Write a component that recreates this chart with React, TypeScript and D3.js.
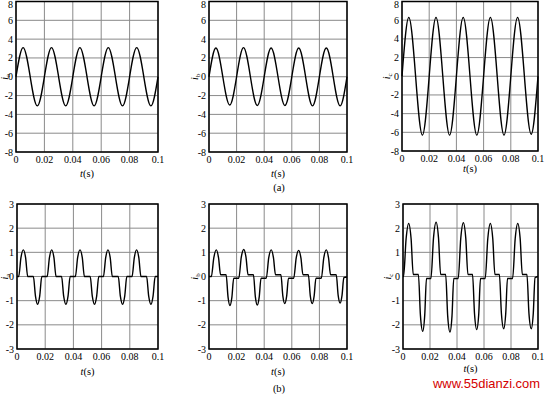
import * as d3 from 'd3';
import React from 'react';

// ---- data ----
const xTicks = [0, 0.02, 0.04, 0.06, 0.08, 0.1];
const xTickLabels = ['0', '0.02', '0.04', '0.06', '0.08', '0.1'];
const yTicksTop = [-8, -6, -4, -2, 0, 2, 4, 6, 8];
const yTicksBottom = [-3, -2, -1, 0, 1, 2, 3];

// (a) sinusoidal currents, sampled at zero crossings and peaks
const tSine = [0, 0.005, 0.01, 0.015, 0.02, 0.025, 0.03, 0.035, 0.04, 0.045, 0.05,
  0.055, 0.06, 0.065, 0.07, 0.075, 0.08, 0.085, 0.09, 0.095, 0.1];
const iaSine = [0, 3.1, 0, -3.1, 0, 3.1, 0, -3.1, 0, 3.1, 0, -3.1, 0, 3.1, 0, -3.1, 0, 3.1, 0, -3.1, 0];
const ibSine = [0, 3.05, 0, -3.0, 0, 3.1, 0, -3.05, 0, 3.05, 0, -3.05, 0, 3.05, 0, -3.1, 0, 3.05, 0, -3.1, 0];
const icSine = [0, 6.3, 0, -6.3, 0, 6.3, 0, -6.3, 0, 6.3, 0, -6.3, 0, 6.3, 0, -6.3, 0, 6.3, 0, -6.2, 0];

// (b) chopped currents
const tA = [0, 0.0012, 0.0028, 0.0045, 0.0061, 0.0076, 0.0116, 0.0131, 0.0146, 0.0161, 0.0176,
  0.0214, 0.023, 0.0246, 0.0262, 0.0277, 0.0316, 0.0331, 0.0347, 0.0362, 0.0377,
  0.0414, 0.043, 0.0447, 0.0463, 0.0478, 0.0519, 0.0534, 0.055, 0.0565, 0.058,
  0.0613, 0.0629, 0.0645, 0.0661, 0.0676, 0.0718, 0.0733, 0.0749, 0.0764, 0.0779,
  0.0816, 0.0832, 0.0848, 0.0864, 0.0879, 0.0919, 0.0934, 0.095, 0.0965, 0.098, 0.1];
const iaChop = [0, 0, 0.78, 1.1, 0.78, 0, 0, -0.81, -1.15, -0.81, 0,
  0, 0.78, 1.1, 0.78, 0, 0, -0.81, -1.15, -0.81, 0,
  0, 0.78, 1.1, 0.78, 0, 0, -0.81, -1.15, -0.81, 0,
  0, 0.78, 1.1, 0.78, 0, 0, -0.81, -1.15, -0.81, 0,
  0, 0.78, 1.1, 0.78, 0, 0, -0.81, -1.15, -0.81, 0, 0];

const tB = [0, 0.0017, 0.0035, 0.0053, 0.0069, 0.0084, 0.0124, 0.0138, 0.0152, 0.0166, 0.0179,
  0.0216, 0.0234, 0.0252, 0.0268, 0.0283, 0.0322, 0.0336, 0.035, 0.0364, 0.0377,
  0.0415, 0.0433, 0.0451, 0.0467, 0.0482, 0.0521, 0.0535, 0.0549, 0.0563, 0.0576,
  0.0614, 0.0632, 0.065, 0.0666, 0.0681, 0.072, 0.0734, 0.0748, 0.0762, 0.0775,
  0.0814, 0.0832, 0.085, 0.0866, 0.0881, 0.0922, 0.0936, 0.095, 0.0964, 0.0977, 0.1];
const ibChop = [0, 0, 0.78, 1.1, 0.78, 0.07, 0.07, -0.85, -1.2, -0.85, -0.07,
  -0.07, 0.8, 1.12, 0.8, 0.07, 0.07, -0.84, -1.18, -0.84, -0.07,
  -0.07, 0.78, 1.1, 0.78, 0.07, 0.07, -0.8, -1.12, -0.8, -0.07,
  -0.07, 0.77, 1.08, 0.77, 0.07, 0.07, -0.8, -1.12, -0.8, -0.07,
  -0.07, 0.78, 1.1, 0.78, 0.07, 0.07, -0.78, -1.1, -0.78, -0.05, -0.02];

const tC = [0, 0.0004, 0.0023, 0.0042, 0.006, 0.0076, 0.0114, 0.0129, 0.0146, 0.0161, 0.0174,
  0.0207, 0.0226, 0.0245, 0.0263, 0.0279, 0.0316, 0.0331, 0.0348, 0.0363, 0.0376,
  0.0409, 0.0428, 0.0447, 0.0465, 0.0481, 0.0515, 0.053, 0.0546, 0.0561, 0.0574,
  0.0609, 0.0628, 0.0647, 0.0665, 0.0681, 0.0714, 0.0729, 0.0746, 0.0761, 0.0774,
  0.0812, 0.0831, 0.085, 0.0868, 0.0884, 0.0918, 0.0933, 0.095, 0.0965, 0.0978, 0.1];
const icChop = [0, 0, 1.56, 2.2, 1.56, 0.08, 0.08, -1.6, -2.27, -1.6, -0.08,
  -0.08, 1.6, 2.25, 1.6, 0.08, 0.08, -1.63, -2.3, -1.63, -0.08,
  -0.08, 1.59, 2.23, 1.59, 0.08, 0.08, -1.56, -2.2, -1.56, -0.08,
  -0.08, 1.56, 2.2, 1.56, 0.08, 0.08, -1.53, -2.16, -1.53, -0.08,
  -0.08, 1.56, 2.2, 1.56, 0.08, 0.08, -1.53, -2.16, -1.53, -0.05, 0];

const FONT = 'Liberation Serif, serif';

type PanelProps = {
  left: number; right: number; top: number; bottom: number;
  yTicks: number[];
  t: number[]; v: number[];
  sub: string;
  curve: d3.CurveFactory;
  xLabelY: number;
  yLabelX: number;
};

const Panel: React.FC<PanelProps> = ({ left, right, top, bottom, yTicks, t, v, sub, curve, xLabelY, yLabelX }) => {
  const x = d3.scaleLinear().domain([0, 0.1]).range([left, right]);
  const y = d3.scaleLinear().domain([yTicks[0], yTicks[yTicks.length - 1]]).range([bottom, top]);
  const pts: [number, number][] = t.map((tt, i) => [tt, v[i]]);
  const line = d3.line<[number, number]>().x(d => x(d[0])).y(d => y(d[1])).curve(curve);
  const midY = (top + bottom) / 2;
  return (
    <g>
      {xTicks.map(tk => (
        <line key={'gx' + tk} x1={x(tk)} x2={x(tk)} y1={top} y2={bottom} stroke="#8a8a8a" strokeWidth={1} />
      ))}
      {yTicks.map(tk => (
        <line key={'gy' + tk} x1={left} x2={right} y1={y(tk)} y2={y(tk)} stroke="#8a8a8a" strokeWidth={1} />
      ))}
      <path d={line(pts) || ''} fill="none" stroke="#000" strokeWidth={1.4} strokeLinejoin="round" />
      <rect x={left} y={top} width={right - left} height={bottom - top} fill="none" stroke="#000" strokeWidth={1.5} />
      {yTicks.map(tk => (
        <text key={'ly' + tk} x={left - 3} y={Math.max(y(tk) + 3.5, 8)} textAnchor="end" fontSize={10} fontFamily={FONT}>{tk}</text>
      ))}
      {xTicks.map((tk, i) => (
        <text key={'lx' + tk} x={x(tk)} y={bottom + 11} textAnchor="middle" fontSize={10} fontFamily={FONT}>{xTickLabels[i]}</text>
      ))}
      <text x={(left + right) / 2} y={xLabelY} textAnchor="middle" fontSize={10.5} fontFamily={FONT}>
        <tspan fontStyle="italic">t</tspan>(s)
      </text>
      <text transform={`translate(${yLabelX},${midY}) rotate(-90)`} textAnchor="middle" fontSize={10} fontFamily={FONT}>
        <tspan fontStyle="italic">i</tspan>
        <tspan fontSize={7} dy={2}>{sub}</tspan>
      </text>
    </g>
  );
};

const App: React.FC = () => {
  return (
    <div style={{ position: 'absolute', left: 0, top: 0 }}>
      <svg width={547} height={394} style={{ display: 'block', background: '#fff' }} fontFamily={FONT}>
        <Panel left={16} right={158} top={1.5} bottom={152} yTicks={yTicksTop} t={tSine} v={iaSine} sub="a" curve={d3.curveNatural} xLabelY={177} yLabelX={8} />
        <Panel left={209} right={347} top={1.5} bottom={152} yTicks={yTicksTop} t={tSine} v={ibSine} sub="b" curve={d3.curveNatural} xLabelY={177} yLabelX={198} />
        <Panel left={402} right={538} top={1.5} bottom={151} yTicks={yTicksTop} t={tSine} v={icSine} sub="c" curve={d3.curveNatural} xLabelY={172} yLabelX={390} />
        <Panel left={17} right={158} top={204} bottom={349} yTicks={yTicksBottom} t={tA} v={iaChop} sub="a" curve={d3.curveMonotoneX} xLabelY={375} yLabelX={8} />
        <Panel left={209} right={347} top={204} bottom={349} yTicks={yTicksBottom} t={tB} v={ibChop} sub="b" curve={d3.curveMonotoneX} xLabelY={375} yLabelX={198} />
        <Panel left={403} right={538} top={204} bottom={349} yTicks={yTicksBottom} t={tC} v={icChop} sub="c" curve={d3.curveMonotoneX} xLabelY={372} yLabelX={391} />
        <text x={279} y={191} textAnchor="middle" fontSize={10.5} fontFamily={FONT}>(a)</text>
        <text x={279} y={392} textAnchor="middle" fontSize={10.5} fontFamily={FONT}>(b)</text>
        <text x={433} y={388} fontSize={13} fontFamily="Liberation Sans, sans-serif" fill="#d40000" textLength={107} lengthAdjust="spacingAndGlyphs">www.55dianzi.com</text>
      </svg>
    </div>
  );
};

export default App;
